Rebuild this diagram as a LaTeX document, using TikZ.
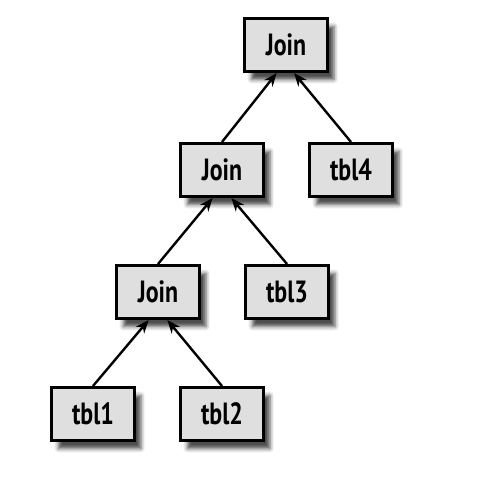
\documentclass[tikz,border=0pt]{standalone}
\usepackage{fontspec}
\newfontfamily\boxfont[FakeStretch=0.78]{PT Sans}
\usetikzlibrary{arrows.meta,shadows.blur}
\tikzset{
	tablebox/.style={
			draw, line width=2pt, fill=gray!25,
			minimum width=62pt, minimum height=40pt,
			font=\boxfont\bfseries\fontsize{23}{26}\selectfont,
			blur shadow={shadow xshift=5pt, shadow yshift=-6pt,
					shadow blur radius=3pt, shadow opacity=70}
		},
	link/.style={-{Stealth[length=10pt,width=8pt]}, line width=1.8pt}
}

\begin{document}
\begin{tikzpicture}[x=0.75pt,y=-0.75pt]
	\useasboundingbox (0,0) rectangle (500,479);

	% join tree
	\node[tablebox] (join3) at (286,45) {Join};
	\node[tablebox] (join2) at (222,170) {Join};
	\node[tablebox] (tbl4) at (351,170) {tbl4};
	\node[tablebox] (join1) at (158,292) {Join};
	\node[tablebox] (tbl3) at (287,292) {tbl3};
	\node[tablebox] (tbl1) at (93,414) {tbl1};
	\node[tablebox] (tbl2) at (222,414) {tbl2};

	% children point up to their join
	\draw[link] (join2.north) -- ([xshift=-7pt]join3.south);
	\draw[link] (tbl4.north) -- ([xshift=6pt]join3.south);
	\draw[link] (join1.north) -- ([xshift=-7pt]join2.south);
	\draw[link] (tbl3.north) -- ([xshift=7pt]join2.south);
	\draw[link] (tbl1.north) -- ([xshift=-7pt]join1.south);
	\draw[link] (tbl2.north) -- ([xshift=7pt]join1.south);
\end{tikzpicture}
\end{document}
